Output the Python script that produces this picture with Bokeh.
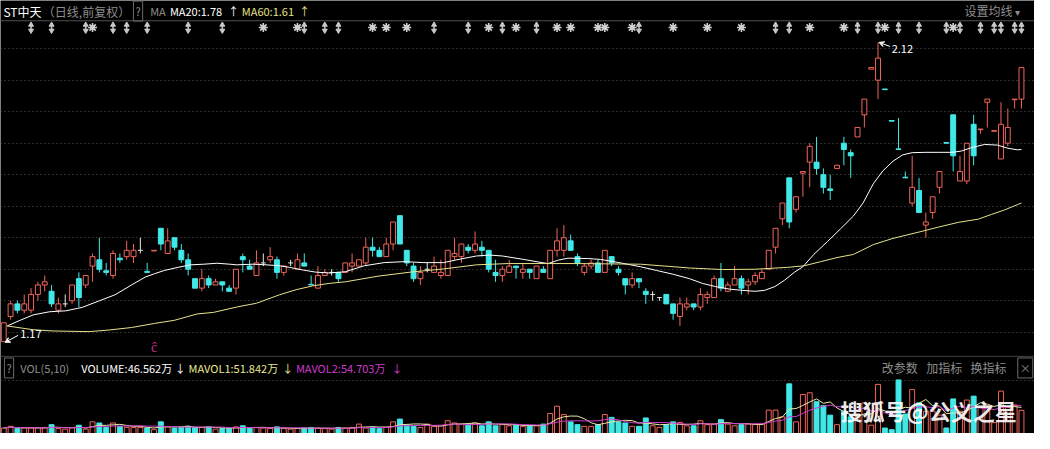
import numpy as np
import pandas as pd
from bokeh.plotting import figure
from bokeh.models import (Range1d, Grid, FixedTicker, Label, Arrow, VeeHead, Span,
                          ColumnDataSource)
from bokeh.core.properties import value
from bokeh.embed import file_html
from bokeh.resources import INLINE

# ---------------- data ----------------
opens = [1.17, 1.25, 1.29, 1.27, 1.27, 1.32, 1.35, 1.33, 1.27, 1.29,
         1.30, 1.37, 1.35, 1.41, 1.43, 1.395, 1.38, 1.435, 1.44, 1.44,
         1.46, 1.393, 1.458, 1.53, 1.45, 1.50, 1.46, 1.43, 1.37, 1.34,
         1.37, 1.35, 1.36, 1.34, 1.34, 1.44, 1.41, 1.38, 1.42, 1.43,
         1.43, 1.39, 1.42, 1.40, 1.42, 1.352, 1.34, 1.38, 1.39, 1.39,
         1.39, 1.41, 1.41, 1.42, 1.47, 1.46, 1.44, 1.48, 1.57, 1.46,
         1.41, 1.37, 1.40, 1.39, 1.38, 1.38, 1.44, 1.44, 1.47, 1.46,
         1.47, 1.46, 1.39, 1.38, 1.39, 1.41, 1.39, 1.40, 1.37, 1.40,
         1.37, 1.46, 1.46, 1.49, 1.44, 1.39, 1.41, 1.42, 1.39, 1.44,
         1.40, 1.37, 1.35, 1.37, 1.33, 1.32, 1.31, 1.32, 1.29, 1.25,
         1.28, 1.29, 1.28, 1.31, 1.31, 1.37, 1.33, 1.35, 1.37, 1.35,
         1.36, 1.37, 1.40, 1.47, 1.56, 1.69, 1.59, 1.705, 1.74, 1.74,
         1.70, 1.655, 1.72, 1.80, 1.77, 1.82, 1.89, 2.035, 2.00, 1.972,
         1.872, 1.782, 1.692, 1.61, 1.65, 1.54, 1.58, 1.66, 1.802, 1.89,
         1.68, 1.68, 1.86, 1.843, 1.93, 1.838, 1.75, 1.80, 1.938, 1.94]
highs = [1.23, 1.30, 1.30, 1.32, 1.34, 1.36, 1.38, 1.35, 1.31, 1.32,
         1.35, 1.39, 1.38, 1.45, 1.50, 1.42, 1.46, 1.45, 1.49, 1.48,
         1.50, 1.42, 1.46, 1.53, 1.53, 1.50, 1.48, 1.45, 1.37, 1.40,
         1.38, 1.37, 1.36, 1.35, 1.40, 1.45, 1.43, 1.46, 1.45, 1.47,
         1.44, 1.41, 1.43, 1.45, 1.45, 1.38, 1.41, 1.40, 1.40, 1.39,
         1.42, 1.45, 1.43, 1.50, 1.50, 1.47, 1.50, 1.55, 1.57, 1.46,
         1.42, 1.41, 1.42, 1.44, 1.43, 1.46, 1.50, 1.48, 1.48, 1.52,
         1.49, 1.46, 1.43, 1.41, 1.43, 1.41, 1.42, 1.40, 1.41, 1.41,
         1.46, 1.53, 1.54, 1.51, 1.45, 1.42, 1.43, 1.43, 1.46, 1.44,
         1.41, 1.37, 1.39, 1.37, 1.34, 1.33, 1.31, 1.32, 1.29, 1.31,
         1.31, 1.29, 1.34, 1.33, 1.38, 1.42, 1.36, 1.41, 1.38, 1.37,
         1.39, 1.40, 1.46, 1.53, 1.61, 1.69, 1.63, 1.71, 1.80, 1.82,
         1.72, 1.70, 1.73, 1.82, 1.78, 1.85, 1.94, 2.04, 2.12, 1.972,
         1.872, 1.88, 1.71, 1.76, 1.69, 1.58, 1.63, 1.71, 1.802, 1.89,
         1.76, 1.80, 1.89, 1.845, 1.94, 1.84, 1.93, 1.91, 1.94, 2.04]
lows = [1.17, 1.24, 1.26, 1.26, 1.26, 1.30, 1.33, 1.28, 1.26, 1.28,
        1.29, 1.28, 1.34, 1.36, 1.39, 1.38, 1.37, 1.42, 1.43, 1.42,
        1.45, 1.39, 1.458, 1.46, 1.45, 1.46, 1.42, 1.38, 1.34, 1.33,
        1.34, 1.35, 1.33, 1.33, 1.32, 1.39, 1.40, 1.38, 1.41, 1.42,
        1.37, 1.38, 1.41, 1.40, 1.41, 1.35, 1.34, 1.38, 1.38, 1.36,
        1.39, 1.39, 1.41, 1.41, 1.44, 1.44, 1.44, 1.46, 1.48, 1.41,
        1.36, 1.35, 1.39, 1.39, 1.37, 1.38, 1.43, 1.42, 1.45, 1.45,
        1.44, 1.39, 1.36, 1.36, 1.39, 1.37, 1.37, 1.37, 1.37, 1.39,
        1.37, 1.44, 1.44, 1.46, 1.41, 1.38, 1.40, 1.39, 1.39, 1.41,
        1.38, 1.32, 1.34, 1.34, 1.29, 1.30, 1.30, 1.29, 1.24, 1.22,
        1.27, 1.27, 1.27, 1.29, 1.31, 1.33, 1.33, 1.35, 1.32, 1.32,
        1.35, 1.37, 1.40, 1.45, 1.54, 1.53, 1.58, 1.63, 1.66, 1.70,
        1.64, 1.62, 1.72, 1.73, 1.69, 1.82, 1.85, 2.035, 1.94, 1.97,
        1.87, 1.78, 1.69, 1.60, 1.58, 1.50, 1.56, 1.64, 1.80, 1.71,
        1.68, 1.67, 1.73, 1.83, 1.85, 1.838, 1.75, 1.79, 1.91, 1.91]
closes = [1.23, 1.29, 1.27, 1.29, 1.32, 1.35, 1.36, 1.29, 1.29, 1.29,
          1.35, 1.31, 1.38, 1.44, 1.40, 1.39, 1.45, 1.43, 1.46, 1.46,
          1.46, 1.39, 1.46, 1.48, 1.49, 1.47, 1.43, 1.40, 1.34, 1.37,
          1.35, 1.36, 1.35, 1.33, 1.40, 1.43, 1.40, 1.42, 1.42, 1.44,
          1.39, 1.41, 1.42, 1.43, 1.41, 1.35, 1.38, 1.39, 1.39, 1.37,
          1.42, 1.42, 1.43, 1.47, 1.46, 1.44, 1.48, 1.55, 1.48, 1.42,
          1.37, 1.39, 1.40, 1.41, 1.39, 1.46, 1.45, 1.48, 1.46, 1.48,
          1.46, 1.40, 1.38, 1.40, 1.41, 1.405, 1.40, 1.39, 1.41, 1.39,
          1.46, 1.49, 1.50, 1.46, 1.42, 1.41, 1.42, 1.39, 1.46, 1.42,
          1.39, 1.35, 1.37, 1.36, 1.32, 1.32, 1.31, 1.29, 1.26, 1.29,
          1.29, 1.28, 1.32, 1.32, 1.37, 1.34, 1.35, 1.37, 1.34, 1.36,
          1.38, 1.39, 1.46, 1.53, 1.61, 1.55, 1.63, 1.71, 1.79, 1.72,
          1.66, 1.65, 1.73, 1.78, 1.76, 1.85, 1.94, 2.04, 2.07, 1.97,
          1.87, 1.78, 1.69, 1.66, 1.58, 1.55, 1.63, 1.71, 1.80, 1.76,
          1.71, 1.80, 1.76, 1.845, 1.94, 1.84, 1.86, 1.85, 1.94, 2.04]
# volume, unit: 万 shares
volumes = [15, 18, 14, 15, 15, 15, 16, 21, 14, 13,
           15, 20, 13, 26, 24, 16, 24, 18, 16, 16,
           16, 15, 12, 26, 17, 15, 16, 18, 16, 16,
           17, 13, 14, 14, 17, 19, 14, 16, 15, 14,
           17, 14, 13, 14, 15, 16, 15, 14, 13, 16,
           15, 16, 22, 15, 17, 14, 16, 26, 31, 20,
           18, 16, 22, 18, 19, 28, 24, 22, 22, 24,
           19, 26, 19, 21, 19, 21, 18, 19, 19, 22,
           41, 54, 39, 26, 21, 18, 18, 21, 39, 34,
           26, 24, 18, 18, 33, 19, 16, 21, 26, 25,
           19, 19, 28, 21, 22, 30, 22, 19, 21, 22,
           22, 22, 47, 47, 35, 94, 26, 75, 78, 62,
           55, 38, 21, 45, 35, 40, 60, 20, 93, 15,
           12, 101, 40, 84, 60, 45, 45, 38, 15, 67,
           45, 65, 72, 52, 53.82, 24.65, 81, 52, 55, 46.562]
# moving-average lines (candle index, price)
ma20_x = [0.5, 2.4, 4.3, 6.7, 9.1, 11.5, 13.9, 16.3, 18.7, 20.7, 22.1, 23.5, 25.5,
          27.4, 29.3, 31.2, 33.1, 34.1, 36.5, 38.4, 40.4, 41.8, 43.7, 45.6, 47.6,
          50.0, 52.8, 55.7, 58.6, 61.5, 64.4, 66.8, 69.2, 71.1, 73.0, 75.9, 78.8,
          79.7, 81.2, 82.6, 85.5, 87.4, 89.3, 90.8, 93.2, 95.6, 98.0, 100.4, 102.3,
          104.2, 106.2, 108.1, 110.0, 111.4, 112.9, 114.3, 115.8, 117.0, 118.6,
          120.6, 122.5, 124.4, 125.8, 127.3, 128.7, 130.2, 131.6, 133.0, 135.0,
          136.9, 138.8, 140.2, 141.7, 143.6, 145.5, 147.0, 148.4, 149.0]
ma20_y = [1.220, 1.238, 1.255, 1.265, 1.268, 1.279, 1.299, 1.319, 1.350, 1.375, 1.386,
          1.396, 1.406, 1.414, 1.416, 1.419, 1.416, 1.414, 1.416, 1.414, 1.411, 1.406,
          1.398, 1.391, 1.388, 1.392, 1.411, 1.421, 1.424, 1.421, 1.421, 1.432, 1.442,
          1.445, 1.442, 1.432, 1.421, 1.418, 1.429, 1.435, 1.434, 1.431, 1.424, 1.418,
          1.408, 1.396, 1.384, 1.370, 1.355, 1.345, 1.337, 1.333, 1.330, 1.333, 1.345,
          1.365, 1.391, 1.408, 1.447, 1.488, 1.528, 1.569, 1.610, 1.671, 1.712, 1.743,
          1.763, 1.770, 1.771, 1.771, 1.771, 1.775, 1.786, 1.796, 1.794, 1.784, 1.779,
          1.780]
ma60_x = [0.5, 4.3, 7.2, 12.5, 15.4, 18.7, 22.1, 25.0, 28.3, 30.7, 34.1, 37.0, 40.4,
          42.8, 45.2, 47.6, 50.0, 54.8, 59.6, 64.4, 69.2, 73.9, 83.5, 93.2, 100.4,
          105.2, 110.0, 114.8, 117.2, 119.6, 122.0, 124.4, 127.3, 130.2, 134.0,
          136.9, 139.8, 142.7, 144.6, 146.5, 148.4, 149.0]
ma60_y = [1.220, 1.208, 1.204, 1.202, 1.207, 1.215, 1.228, 1.238, 1.258, 1.263, 1.280,
          1.292, 1.319, 1.335, 1.347, 1.355, 1.360, 1.378, 1.391, 1.401, 1.414, 1.418,
          1.418, 1.416, 1.404, 1.399, 1.400, 1.406, 1.411, 1.424, 1.437, 1.447, 1.478,
          1.498, 1.518, 1.534, 1.549, 1.559, 1.574, 1.588, 1.605, 1.610]
price_grid = [1.2, 1.3, 1.4, 1.5, 1.6, 1.7, 1.8, 1.9, 2.0, 2.1]
vol_grid = [100]
# information-mine markers above candles: 'b' = double arrow, 's' = star
info_idx = [4, 7, 12, 13, 16, 18, 21, 27, 32, 38, 43, 44, 47, 49, 54, 56, 59, 63, 68,
            71, 73, 75, 78, 81, 83, 87, 88, 92, 93, 98, 103, 108, 113, 115, 118, 123,
            125, 128, 129, 131, 134, 138, 139, 140, 143, 145, 146, 148, 149]
info_kind = ['b', 'b', 'b', 's', 'b', 'b', 'b', 'b', 'b', 's', 's', 'b', 'b', 'b', 's',
             's', 's', 'b', 'b', 's', 'b', 's', 'b', 's', 's', 's', 's', 's', 'b', 's',
             's', 's', 'b', 'b', 's', 's', 'b', 'b', 's', 'b', 'b', 'b', 's', 'b', 'b',
             'b', 'b', 'b', 'b']
exrights_idx = [22]

# ---------------- geometry ----------------
W, H = 1034, 433
X0, DX = 3.3, 6.936            # reference px of first candle, px per candle
P0, YP0, PPU = 1.2, 344.0, 326.7  # price 1.2 at reference y=344, px per 1.0
VBASE, VPX = 452.0, 1.725      # volume zero line (ref y), 万 per px


def xr(px):
    return (px - X0) / DX


def yr(py):
    return P0 + (YP0 - py) / PPU


RED = "#f0645a"
CYAN = "#40e8e8"
WHITE = "#e8e8e8"
GRAY = "#8e8e8e"
YEL = "#e6e28c"
MAG = "#cc3ccc"
CJK = "Noto Sans CJK SC"

o = np.array(opens); h = np.array(highs); l = np.array(lows); c = np.array(closes)
v = np.array(volumes, dtype=float)
n = len(c)
idx = np.arange(n)
up = c > o
dn = c < o
fl = c == o
cols = np.where(up, RED, np.where(dn, CYAN, WHITE))

p = figure(width=W, height=H, output_backend="svg", toolbar_location=None,
           x_range=Range1d(xr(0), xr(1050)), y_range=Range1d(yr(449), yr(0)),
           x_axis_location=None, y_axis_location=None, min_border=0,
           background_fill_color="black", border_fill_color="black",
           outline_line_color=None)
# drop default grids
p.center = [r for r in p.center if not isinstance(r, Grid)]
p.extra_y_ranges = {"vol": Range1d((VBASE - 449) * VPX, VBASE * VPX)}

# grids
p.add_layout(Grid(dimension=1, ticker=FixedTicker(ticks=price_grid),
                  grid_line_color="#5a5a5a", grid_line_dash="1 3", grid_line_width=1))
p.add_layout(Grid(dimension=1, y_range_name="vol", ticker=FixedTicker(ticks=vol_grid),
                  grid_line_color="#5a5a5a", grid_line_dash="1 3", grid_line_width=1))
# panel separators
p.add_layout(Span(location=yr(21), dimension="width", line_color="#505050", line_width=1))
p.add_layout(Span(location=yr(369), dimension="width", line_color="#404040", line_width=1))

# candles
src = ColumnDataSource(dict(x=idx, h=h, l=l, col=cols))
p.segment(x0="x", y0="l", x1="x", y1="h", line_color="col", line_width=1, source=src)
bw = 0.72
p.vbar(x=idx[up], width=bw, top=c[up], bottom=o[up], fill_color="black",
       line_color=RED, line_width=1)
p.vbar(x=idx[dn], width=bw, top=o[dn], bottom=c[dn], fill_color=CYAN,
       line_color=CYAN, line_width=1)
p.segment(x0=idx[fl] - bw / 2, x1=idx[fl] + bw / 2, y0=c[fl], y1=c[fl],
          line_color=WHITE, line_width=1)

# moving averages
p.line(ma20_x, ma20_y, line_color="white", line_width=1)
p.line(ma60_x, ma60_y, line_color=YEL, line_width=1)

# volume bars
vup = c >= o
p.vbar(x=idx[vup], width=bw, top=v[vup], bottom=0, fill_color="black",
       line_color=RED, line_width=1, y_range_name="vol")
p.vbar(x=idx[~vup], width=bw, top=v[~vup], bottom=0, fill_color=CYAN,
       line_color=CYAN, line_width=1, y_range_name="vol")
mv5 = pd.Series(v).rolling(5, min_periods=1).mean().to_numpy()
mv10 = pd.Series(v).rolling(10, min_periods=1).mean().to_numpy()
p.line(idx, mv5, line_color="#eaeaa8", line_width=1, y_range_name="vol")
p.line(idx, mv10, line_color=MAG, line_width=1, y_range_name="vol")

# information markers row
ii = np.array(info_idx); kk = np.array(info_kind)
yb = yr(28)
nb = int((kk == 'b').sum()); ns = int((kk == 's').sum())
p.scatter(ii[kk == 'b'], [yr(25.2)] * nb, marker="triangle",
          size=5, fill_color="#c8c8c8", line_color="#c8c8c8")
p.scatter(ii[kk == 'b'], [yr(31.2)] * nb, marker="inverted_triangle",
          size=5, fill_color="#c8c8c8", line_color="#c8c8c8")
p.segment(x0=ii[kk == 'b'], x1=ii[kk == 'b'], y0=yr(24), y1=yr(32),
          line_color="#c8c8c8", line_width=1.5)
p.scatter(ii[kk == 's'], [yb] * ns, marker="asterisk",
          size=9, line_color="#d0d0d0", line_width=1.6)
p.scatter(ii[kk == 's'], [yb] * ns, marker="circle",
          size=4, fill_color="#d0d0d0", line_color="#d0d0d0")

# ex-rights mark
p.text(x=exrights_idx, y=[yr(358)] * len(exrights_idx), text=["ĉ"] * len(exrights_idx),
       text_color="#c8308c", text_font=value(CJK), text_font_size="14px",
       text_align="center", text_baseline="middle")

# high / low annotations
imax = int(np.argmax(h)); imin = int(np.argmin(l))
head = dict(size=5, line_color="white", fill_color="white", line_width=1)
p.add_layout(Arrow(x_start=imax + 1.75, y_start=h[imax] - 0.013, x_end=imax + 0.15,
                   y_end=h[imax], line_color="white", line_width=1, end=VeeHead(**head)))
p.add_layout(Label(x=imax + 2.0, y=h[imax] - 0.022, text=f"{h[imax]:.2f}",
                   text_color="white", text_font=CJK, text_font_size="11px",
                   text_baseline="middle"))
p.add_layout(Arrow(x_start=imin + 2.1, y_start=l[imin] + 0.02, x_end=imin + 0.2,
                   y_end=l[imin] - 0.002, line_color="white", line_width=1,
                   end=VeeHead(**head)))
p.add_layout(Label(x=imin + 2.4, y=l[imin] + 0.024, text=f"{l[imin]:.2f}",
                   text_color="white", text_font=CJK, text_font_size="11px",
                   text_baseline="middle"))


def lab(px, py, text, color, size="11px", style="normal", box=False, alpha=1.0):
    kw = {}
    if box:
        kw = dict(border_line_color="#6a6a6a", border_line_width=1, padding=2)
    p.add_layout(Label(x=xr(px), y=yr(py), text=text, text_color=color,
                       text_font=CJK, text_font_size=size, text_font_style=style,
                       text_baseline="middle", text_alpha=alpha, **kw))


# header of price panel
lab(3, 11, "ST中天", "white", "12px")
lab(43, 11, "（日线,前复权）", GRAY, "12px")
lab(135, 11, "?", GRAY, "11px", box=True)
lab(152, 11, "MA", GRAY)
lab(172, 11, f"MA20:{ma20_y[-1]:.2f}", "white")
lab(231, 11, "↑", "white")
lab(245, 11, f"MA60:{ma60_y[-1]:.2f}", YEL)
lab(303, 11, "↑", YEL)
lab(979, 10.5, "设置均线", GRAY, "12px")
lab(1030, 11, "▾", GRAY, "10px")

# header of volume panel
lab(4, 381, "?", GRAY, "11px", box=True)
lab(20, 381, "VOL(5,10)", GRAY)
lab(82, 381, f"VOLUME:{v[-1]:.3f}万", "white")
lab(177, 381, "↓", "white")
lab(191, 381, f"MAVOL1:{mv5[-1]:.3f}万", "#e8e890")
lab(286, 381, "↓", "#e8e890")
lab(300, 381, f"MAVOL2:{mv10[-1]:.3f}万", MAG)
lab(397, 381, "↓", MAG)
lab(895, 381, "改参数", GRAY, "12px")
lab(940, 381, "加指标", GRAY, "12px")
lab(985, 381, "换指标", GRAY, "12px")
lab(1033, 381, "×", GRAY, "11px", box=True)

# watermark
lab(853, 425, "搜狐号@公义之星", "white", "22px", "bold", alpha=0.92)

open("out.html", "w").write(file_html(p, INLINE))
